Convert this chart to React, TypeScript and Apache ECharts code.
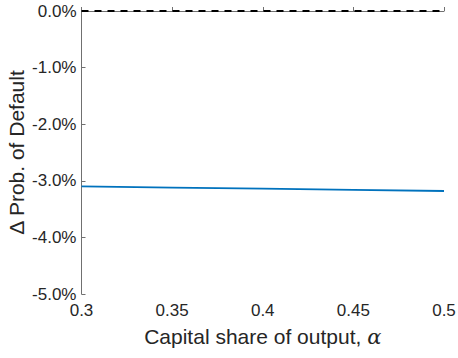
import React, { useEffect, useRef } from "react";
import * as echarts from "echarts";

const alphaValues = [0.3, 0.35, 0.4, 0.45, 0.5];
const deltaDefault = [-3.1, -3.12, -3.14, -3.16, -3.18];
const zeroLine = [0, 0, 0, 0, 0];

export default function App() {
  const ref = useRef<HTMLDivElement>(null);
  useEffect(() => {
    const chart = echarts.init(ref.current!, null, { renderer: "svg" });
    const font = "Liberation Sans, Arial, sans-serif";
    chart.setOption({
      animation: false,
      backgroundColor: "#ffffff",
      grid: { left: 81.5, right: 14, top: 11, bottom: 64, containLabel: false, outerBoundsMode: "none" },
      xAxis: {
        type: "value",
        min: 0.3,
        max: 0.5,
        interval: 0.05,
        name: "Capital share of output, {a|α}",
        nameLocation: "middle",
        nameGap: 32,
        nameMoveOverlap: false,
        nameTextStyle: {
          color: "#262626",
          fontSize: 21,
          fontFamily: font,
          rich: {
            a: { fontFamily: "DejaVu Serif, serif", fontStyle: "italic", fontSize: 21, color: "#262626" },
          },
        },
        axisLine: { show: true, lineStyle: { color: "#707070", width: 1 } },
        axisTick: { show: true, inside: true, length: 4, lineStyle: { color: "#707070" } },
        axisLabel: {
          color: "#262626",
          fontSize: 17,
          fontFamily: font,
          margin: 8,
          formatter: (v: number) => String(parseFloat(v.toFixed(2))),
        },
        splitLine: { show: false },
      },
      yAxis: {
        type: "value",
        min: -5,
        max: 0,
        interval: 1,
        name: "Δ Prob. of Default",
        nameLocation: "middle",
        nameGap: 55,
        nameMoveOverlap: false,
        nameTextStyle: { color: "#262626", fontSize: 21, fontFamily: font },
        axisLine: { show: true, lineStyle: { color: "#707070", width: 1 } },
        axisTick: { show: true, inside: true, length: 4, lineStyle: { color: "#707070" } },
        axisLabel: {
          color: "#262626",
          fontSize: 17,
          fontFamily: font,
          margin: 5,
          formatter: (v: number) => v.toFixed(1) + "%",
        },
        splitLine: { show: false },
      },
      series: [
        {
          type: "line",
          data: alphaValues.map((x, i) => [x, zeroLine[i]]),
          showSymbol: false,
          lineStyle: { color: "#000000", width: 2, type: [7, 6] },
          z: 3,
        },
        {
          type: "line",
          data: alphaValues.map((x, i) => [x, deltaDefault[i]]),
          showSymbol: false,
          lineStyle: { color: "#0072BD", width: 1.8 },
          z: 4,
        },
      ],
    });
    return () => chart.dispose();
  }, []);
  return <div ref={ref} style={{ width: 458, height: 358, position: "absolute", left: 0, top: 0 }} />;
}
